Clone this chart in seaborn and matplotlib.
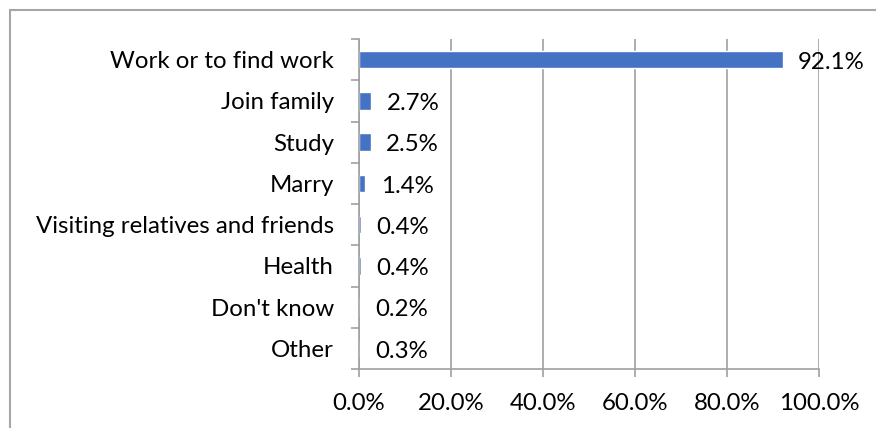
import matplotlib
matplotlib.use("Agg")
import matplotlib.pyplot as plt
import seaborn as sns
import pandas as pd
from matplotlib.ticker import FixedLocator, PercentFormatter
from matplotlib.patches import Rectangle

categories = ["Work or to find work", "Join family", "Study", "Marry",
              "Visiting relatives and friends", "Health", "Don't know", "Other"]
values = [92.1, 2.7, 2.5, 1.4, 0.4, 0.4, 0.2, 0.3]
xticks = [0, 20, 40, 60, 80, 100]

df = pd.DataFrame({"reason": categories, "pct": values})

sns.set_theme(style="white")
plt.rcParams["font.family"] = ["Lato", "DejaVu Sans"]

fig = plt.figure(figsize=(8.76, 4.28), dpi=100)
ax = fig.add_axes([359/876, 59/428, (819-359)/876, (369-39)/428])

sns.barplot(data=df, x="pct", y="reason", orient="h", color="#4472C4",
            saturation=1, width=0.42, ax=ax)

ax.set_xlim(0, 100)
ax.set_ylim(7.5, -0.5)
ax.set_xticks(xticks)
ax.xaxis.set_major_formatter(PercentFormatter(decimals=1))
ax.grid(axis="x", color="#A0A0A0", linewidth=1.2)
ax.set_axisbelow(True)
ax.set_xlabel("")
ax.set_ylabel("")

for s in ["top", "right"]:
    ax.spines[s].set_visible(False)
for s in ["left", "bottom"]:
    ax.spines[s].set_visible(True)
    ax.spines[s].set_color("#A0A0A0")
    ax.spines[s].set_linewidth(1.2)

ax.tick_params(axis="y", which="major", length=0, pad=18, labelsize=17.3, labelcolor="#000000")
ax.yaxis.set_minor_locator(FixedLocator([i - 0.5 for i in range(len(categories) + 1)]))
ax.tick_params(axis="y", which="minor", length=6, width=1.2, color="#A0A0A0", left=True)
ax.tick_params(axis="x", which="major", length=6, width=1.2, color="#A0A0A0",
               bottom=True, pad=11, labelsize=17.3, labelcolor="#000000")

for i, v in enumerate(values):
    ax.annotate(f"{v:.1f}%", xy=(v, i), xytext=(11, -2), textcoords="offset points",
                va="center", ha="left", fontsize=17.3, color="#000000")

fig.add_artist(Rectangle((10/876, -0.1), 1.2, 1.1 - 10/428, transform=fig.transFigure,
                         fill=False, edgecolor="#A6A6A6", linewidth=1.5))

fig.savefig("out.png", dpi=100)
